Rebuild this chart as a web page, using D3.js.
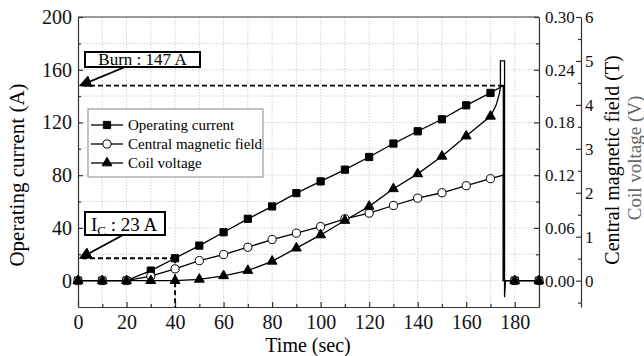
<!DOCTYPE html>
<html>
<head>
<meta charset="utf-8">
<script src="https://cdn.jsdelivr.net/npm/d3@7"></script>
<style>
  body { margin: 0; background: #fff; }
  svg { display: block; }
  .grid line { stroke: #c8c8c8; stroke-width: 0.8; stroke-dasharray: 1.5,1.5; }
  .axis path, .axis line { stroke: #333; stroke-width: 1.2; }
  .axis text { fill: #111; }
</style>
</head>
<body>
<svg id="chart" width="644" height="356"></svg>
<script>
// ---- data ----
const timeSec  = [0, 10, 20, 30, 40, 50, 60, 70, 80, 90, 100, 110, 120, 130, 140, 150, 160, 170, 180, 190];
const currentA = [0, 0, 0, 7.6, 17, 26.6, 36.7, 46.9, 56.3, 66.4, 75.3, 84.2, 93.8, 104, 113.3, 122.4, 133, 142.4, 0, 0];
const fieldT   = [0, 0, 0, 0.005, 0.0134, 0.0228, 0.0297, 0.038, 0.0468, 0.054, 0.0615, 0.0704, 0.0768, 0.0855, 0.0939, 0.100, 0.108, 0.116, 0, 0];
const voltageV = [0, 0, 0, 0, 0, 0.03, 0.11, 0.23, 0.44, 0.74, 1.04, 1.37, 1.69, 2.09, 2.43, 2.83, 3.29, 3.74, 0, 0];

// quench transient between 170 s and 180 s (no markers)
const quenchCurrentT = [175.3, 175.3];
const quenchCurrentA = [148, 0];
const quenchFieldT   = [175.3, 175.3];
const quenchFieldV   = [0.12, 0];
const quenchVoltT    = [172.3, 173.7, 174.1, 174.1, 175.8, 175.8, 176.2];
const quenchVoltV    = [3.99, 4.26, 4.41, 5.0, 5.0, -0.38, 0];

const xTicks       = [0, 20, 40, 60, 80, 100, 120, 140, 160, 180];
const currentTicks = [0, 40, 80, 120, 160, 200];
const fieldTicks   = [0, 0.06, 0.12, 0.18, 0.24, 0.30];
const voltTicks    = [0, 1, 2, 3, 4, 5, 6];

const seriesNames = ["Operating current", "Central magnetic field", "Coil voltage"];

const burnLevelA = 148, burnTime = 175.3;
const icLevelA = 17, icTime = 40;

// ---- setup ----
const svg = d3.select("#chart");
const pL = 78, pR = 539, pT = 17, pB = 307;
const FONT = '"Liberation Serif", "Times New Roman", serif';

const x  = d3.scaleLinear().domain([0, 190]).range([pL, pR]);
const yA = d3.scaleLinear().domain([-20, 200]).range([pB, pT]);
const yB = d3.scaleLinear().domain([-0.03, 0.30]).range([pB, pT]);
const yV = d3.scaleLinear().domain([-0.6, 6]).range([pB, pT]);

// grid
const grid = svg.append("g").attr("class", "grid");
grid.selectAll("line.v").data(d3.range(10, 191, 10)).join("line")
    .attr("x1", d => x(d)).attr("x2", d => x(d)).attr("y1", pT).attr("y2", pB);
grid.selectAll("line.h").data(d3.range(0, 181, 20)).join("line")
    .attr("x1", pL).attr("x2", pR).attr("y1", d => yA(d)).attr("y2", d => yA(d));

// frame top
svg.append("line").attr("x1", pL).attr("x2", pR).attr("y1", pT).attr("y2", pT)
    .attr("stroke", "#333").attr("stroke-width", 1.2);

// axes
function styleAxis(g, size) {
    g.attr("class", "axis");
    g.selectAll("text").attr("font-size", size).style("font-family", FONT);
}
const xAxis = svg.append("g").attr("transform", `translate(0,${pB})`)
    .call(d3.axisBottom(x).tickValues(xTicks).tickSize(-5).tickSizeOuter(0).tickPadding(8).tickFormat(d3.format("d")));
styleAxis(xAxis, 20);
svg.append("g").attr("class", "axis").attr("transform", `translate(0,${pB})`)
    .call(d3.axisBottom(x).tickValues(d3.range(10, 191, 20)).tickSize(-3).tickFormat(""))
    .select(".domain").remove();

const yAxis = svg.append("g").attr("transform", `translate(${pL},0)`)
    .call(d3.axisLeft(yA).tickValues(currentTicks).tickSize(-5).tickSizeOuter(0).tickPadding(6));
styleAxis(yAxis, 20);
svg.append("g").attr("class", "axis").attr("transform", `translate(${pL},0)`)
    .call(d3.axisLeft(yA).tickValues(d3.range(20, 200, 40)).tickSize(-3).tickFormat(""))
    .select(".domain").remove();

const bAxis = svg.append("g").attr("transform", `translate(${pR},0)`)
    .call(d3.axisRight(yB).tickValues(fieldTicks).tickSize(-5).tickSizeOuter(0).tickPadding(6).tickFormat(d3.format(".2f")));
styleAxis(bAxis, 17);
svg.append("g").attr("class", "axis").attr("transform", `translate(${pR},0)`)
    .call(d3.axisRight(yB).tickValues([0.03, 0.09, 0.15, 0.21, 0.27]).tickSize(-3).tickFormat(""))
    .select(".domain").remove();

const vAxis = svg.append("g").attr("transform", `translate(581,0)`)
    .call(d3.axisRight(yV).tickValues(voltTicks).tickSize(-5).tickSizeOuter(0).tickPadding(4).tickFormat(d3.format("d")));
styleAxis(vAxis, 17);
svg.append("g").attr("class", "axis").attr("transform", `translate(581,0)`)
    .call(d3.axisRight(yV).tickValues([-0.5, 0.5, 1.5, 2.5, 3.5, 4.5, 5.5]).tickSize(-3).tickFormat(""))
    .select(".domain").remove();

// axis titles
function title(txt, tr, size, color) {
    return svg.append("text").attr("transform", tr).attr("text-anchor", "middle")
        .style("font-family", FONT).attr("font-size", size).attr("fill", color || "#000").text(txt);
}
title("Time (sec)", "translate(308,352)", 20);
title("Operating current (A)", "translate(24,175) rotate(-90)", 21);
title("Central magnetic field (T)", "translate(619,160) rotate(-90)", 20);
title("Coil voltage (V)", "translate(641,158) rotate(-90)", 19, "#666");

// annotations: dashed guides
const dash = svg.append("g").attr("stroke", "#000").attr("stroke-width", 1.8)
    .attr("stroke-dasharray", "5,3").attr("fill", "none");
dash.append("line").attr("x1", x(0) + 4).attr("x2", x(burnTime)).attr("y1", yA(burnLevelA)).attr("y2", yA(burnLevelA));
dash.append("line").attr("x1", x(0) + 4).attr("x2", x(icTime)).attr("y1", yA(icLevelA)).attr("y2", yA(icLevelA));
dash.append("line").attr("x1", x(icTime)).attr("x2", x(icTime)).attr("y1", yA(icLevelA)).attr("y2", pB);

// series lines
function merge(ts, vs, qt, qv) {
    const pts = ts.map((t, i) => [t, vs[i]]);
    const q = qt.map((t, i) => [t, qv[i]]);
    const before = pts.filter(p => p[0] <= 170), after = pts.filter(p => p[0] > 170);
    return before.concat(q, after);
}
const series = [
    { name: seriesNames[0], y: yA, vals: currentA, line: merge(timeSec, currentA, quenchCurrentT, quenchCurrentA), sym: d3.symbolSquare, size: 52, fill: "#000" },
    { name: seriesNames[1], y: yB, vals: fieldT,   line: merge(timeSec, fieldT, quenchFieldT, quenchFieldV),     sym: d3.symbolCircle, size: 52, fill: "#fff" },
    { name: seriesNames[2], y: yV, vals: voltageV, line: merge(timeSec, voltageV, quenchVoltT, quenchVoltV),     sym: d3.symbolTriangle, size: 42, fill: "#000" }
];

const plot = svg.append("g");
series.forEach(s => {
    plot.append("path").datum(s.line)
        .attr("fill", "none").attr("stroke", "#000").attr("stroke-width", 1.3)
        .attr("d", d3.line().x(d => x(d[0])).y(d => s.y(d[1])));
});
series.forEach(s => {
    plot.append("g").selectAll("path").data(timeSec).join("path")
        .attr("transform", (t, i) => `translate(${x(t)},${s.y(s.vals[i])})`)
        .attr("d", d3.symbol().type(s.sym).size(s.size))
        .attr("fill", s.fill).attr("stroke", "#000").attr("stroke-width", 1);
});

// legend
const lg = svg.append("g").attr("transform", "translate(88,109)");
lg.append("rect").attr("width", 175).attr("height", 68).attr("fill", "#fff")
    .attr("stroke", "#888").attr("stroke-width", 1);
series.forEach((s, i) => {
    const yy = 16 + i * 19;
    lg.append("line").attr("x1", 3).attr("x2", 35).attr("y1", yy).attr("y2", yy)
        .attr("stroke", "#000").attr("stroke-width", 1.3);
    lg.append("path").attr("transform", `translate(19,${yy})`)
        .attr("d", d3.symbol().type(s.sym).size(s.size))
        .attr("fill", s.fill).attr("stroke", "#000");
    lg.append("text").attr("x", 40).attr("y", yy + 5).style("font-family", FONT)
        .attr("font-size", 15).text(s.name);
});

// arrows + label boxes
svg.append("defs").append("marker").attr("id", "ah").attr("viewBox", "0 0 10 10")
    .attr("refX", 9).attr("refY", 5).attr("markerWidth", 7).attr("markerHeight", 7)
    .attr("orient", "auto").append("path").attr("d", "M0,0L10,5L0,10z").attr("fill", "#000");

function callout(bx, by, bw, bh, ax, ay, lvl) {
    svg.append("line").attr("x1", ax).attr("y1", ay).attr("x2", x(0) + 2).attr("y2", yA(lvl))
        .attr("stroke", "#000").attr("stroke-width", 1.8).attr("marker-end", "url(#ah)");
    svg.append("rect").attr("x", bx).attr("y", by).attr("width", bw).attr("height", bh)
        .attr("fill", "#fff").attr("stroke", "#000").attr("stroke-width", 2);
}
callout(85, 52, 115, 15, 125, 67, burnLevelA);
svg.append("text").attr("x", 142.5).attr("y", 65).attr("text-anchor", "middle")
    .style("font-family", FONT).attr("font-size", 17).text("Burn : 147 A");

callout(85, 212, 80, 23, 123, 235, icLevelA);
const ic = svg.append("text").attr("x", 91).attr("y", 231).style("font-family", FONT).attr("font-size", 19);
ic.append("tspan").text("I");
ic.append("tspan").attr("font-size", 13).attr("dy", 4).text("C");
ic.append("tspan").attr("dy", -4).text(" : 23 A");
</script>
</body>
</html>
